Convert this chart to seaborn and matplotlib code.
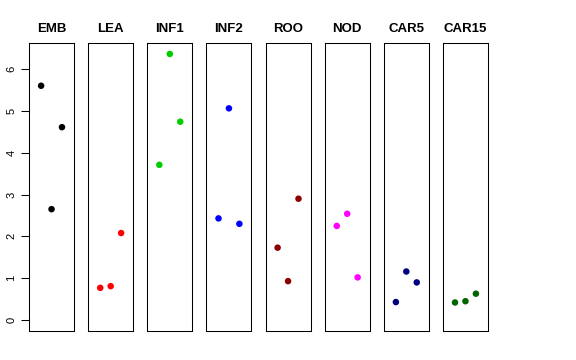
import pandas as pd
import matplotlib
matplotlib.use("Agg")
import matplotlib.pyplot as plt
import seaborn as sns

# tessuti e valori (3 repliche ciascuno)
tissues = ["EMB", "LEA", "INF1", "INF2", "ROO", "NOD", "CAR5", "CAR15"]
colors = ["#000000", "#FF0000", "#00CD00", "#0000FF", "#8B0000", "#FF00FF", "#000080", "#006400"]
rep = [1, 2, 3]
EMB = [5.60, 2.65, 4.61]
LEA = [0.77, 0.81, 2.08]
INF1 = [3.71, 6.36, 4.74]
INF2 = [2.43, 5.06, 2.30]
ROO = [1.73, 0.93, 2.90]
NOD = [2.25, 2.54, 1.02]
CAR5 = [0.43, 1.16, 0.90]
CAR15 = [0.42, 0.45, 0.63]
values = [EMB, LEA, INF1, INF2, ROO, NOD, CAR5, CAR15]
yticks = [0, 1, 2, 3, 4, 5, 6]

df = pd.DataFrame({
    "tissue": [t for t in tissues for _ in rep],
    "rep": rep * len(tissues),
    "value": [v for vals in values for v in vals],
})

sns.set_style("white")
plt.rcParams["font.family"] = ["Liberation Sans", "DejaVu Sans"]
plt.rcParams["text.color"] = "black"
plt.rcParams["ytick.color"] = "black"
plt.rcParams["ytick.labelcolor"] = "black"

fig, axes = plt.subplots(1, 8, figsize=(5.76, 3.6), dpi=100, sharey=True)
fig.subplots_adjust(left=29/576, right=488/576, top=1-43.3/360, bottom=1-330.7/360, wspace=14/45)

ymax = df["value"].max()
yr = ymax - 0
for ax, t, c in zip(axes, tissues, colors):
    sub = df[df["tissue"] == t]
    sns.scatterplot(data=sub, x="rep", y="value", ax=ax, color=c, s=22, edgecolor="none", legend=False)
    ax.set_xlim(-0.16, 4.16)
    ax.set_ylim(0 - 0.04 * yr, ymax + 0.04 * yr)
    ax.set_xticks([])
    ax.set_xlabel("")
    ax.set_ylabel("")
    ax.set_title(t, fontsize=9.5, fontweight="bold", color="black", pad=8)
    for s in ax.spines.values():
        s.set_visible(True)
        s.set_color("black")
        s.set_linewidth(0.75)

axes[0].set_yticks(yticks)
axes[0].tick_params(axis="y", left=True, length=6, width=0.75, pad=3, labelsize=8,
                    labelrotation=90, colors="black")
for lab in axes[0].get_yticklabels():
    lab.set_va("center")
for ax in axes[1:]:
    ax.tick_params(axis="y", left=False, labelleft=False)

plt.savefig("out.png", dpi=100)
